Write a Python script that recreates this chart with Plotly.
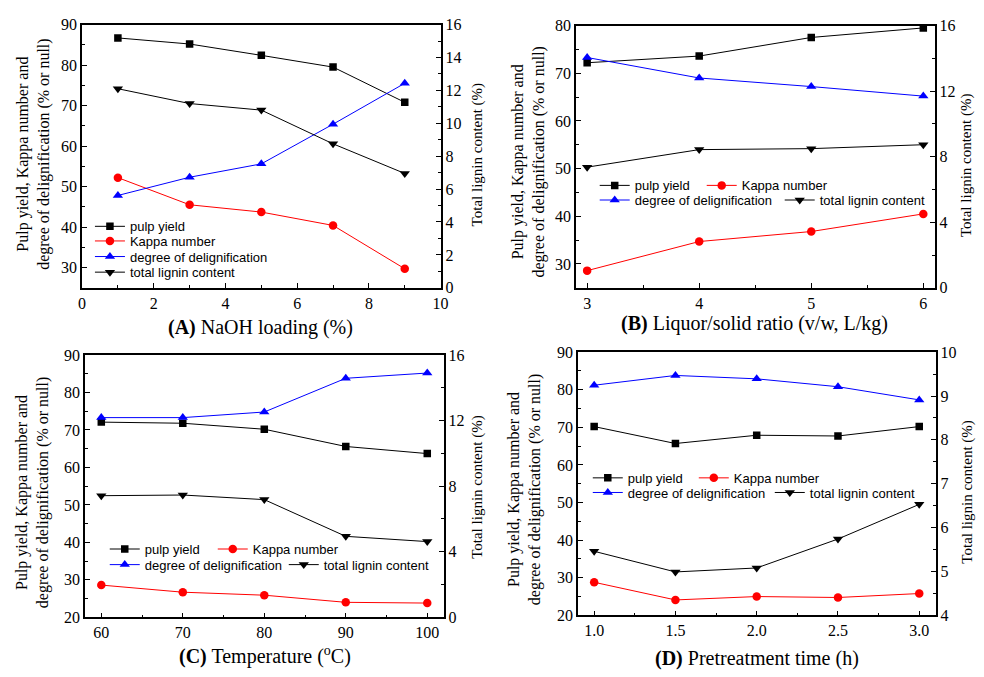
import plotly.graph_objects as go

W, H = 984, 677

# ---------------- data ----------------
naoh = [1, 3, 5, 7, 9]
a_pulp = [86.7, 85.2, 82.4, 79.5, 70.8]
a_kappa = [52.2, 45.5, 43.7, 40.4, 29.7]
a_deg = [47.8, 52.3, 55.6, 65.4, 75.5]
a_lignin = [12.1, 11.2, 10.8, 8.75, 6.95]

ratio = [3, 4, 5, 6]
b_pulp = [72.2, 73.6, 77.5, 79.5]
b_kappa = [28.6, 34.7, 36.8, 40.5]
b_deg = [73.3, 69.0, 67.2, 65.2]
b_lignin = [7.36, 8.43, 8.49, 8.73]

temp = [60, 70, 80, 90, 100]
c_pulp = [72.1, 71.8, 70.2, 65.6, 63.7]
c_kappa = [28.6, 26.7, 25.9, 24.0, 23.8]
c_deg = [73.3, 73.3, 74.8, 83.8, 85.2]
c_lignin = [7.42, 7.46, 7.18, 4.94, 4.62]

ptime = [1.0, 1.5, 2.0, 2.5, 3.0]
d_pulp = [70.2, 65.7, 67.9, 67.7, 70.2]
d_kappa = [28.8, 24.1, 25.0, 24.75, 25.8]
d_deg = [81.2, 83.8, 82.9, 80.8, 77.3]
d_lignin = [5.46, 4.99, 5.08, 5.74, 6.53]

names = ["pulp yield", "Kappa number", "degree of delignification", "total lignin content"]
xtitles = ["<b>(A)</b> NaOH loading (%)",
           "<b>(B)</b> Liquor/solid ratio (v/w, L/kg)",
           "<b>(C)</b> Temperature (<sup>o</sup>C)",
           "<b>(D)</b> Pretreatment time (h)"]
ytitle = "Pulp yield, Kappa number and<br>degree of delignification (% or null)"
y2title = "Total lignin content (%)"

# ---------------- helpers ----------------
def px(x):
    return x / W

def py(y):
    return 1 - y / H

SERIF = "Liberation Serif"
SANS = "Liberation Sans"

colors = ["black", "red", "blue", "black"]
symbols = ["square", "circle", "triangle-up", "triangle-down"]
msizes = [7.5, 8.5, 9, 9]

fig = go.Figure()

panels = [
    dict(x=naoh, ys=[a_pulp, a_kappa, a_deg, a_lignin],
         dom=(79, 442, 17, 287), xr=[0, 10], xd=2, xm=1, xf=None,
         yr=[25, 90], yd=10, ym=5, y2r=[0, 16], y2d=2, y2m=1),
    dict(x=ratio, ys=[b_pulp, b_kappa, b_deg, b_lignin],
         dom=(579, 942, 18, 287), xr=[2.9, 6.1], xd=1, xm=0.5, xf=None,
         yr=[25, 80], yd=10, ym=5, y2r=[0, 16], y2d=4, y2m=2),
    dict(x=temp, ys=[c_pulp, c_kappa, c_deg, c_lignin],
         dom=(82, 445, 356, 625), xr=[58, 102], xd=10, xm=5, xf=None,
         yr=[20, 90], yd=10, ym=5, y2r=[0, 16], y2d=4, y2m=2),
    dict(x=ptime, ys=[d_pulp, d_kappa, d_deg, d_lignin],
         dom=(581, 943, 353, 623), xr=[0.9, 3.1], xd=0.5, xm=0.25, xf=".1f",
         yr=[20, 90], yd=10, ym=5, y2r=[4, 10], y2d=1, y2m=0.5),
]

# legend assignment and per-entry widths (first entry of a row sets the column gap)
trace_legend = [
    ["legend", "legend2", "legend3", "legend4"],
    ["legend5", "legend5", "legend6", "legend6"],
    ["legend7", "legend7", "legend8", "legend8"],
    ["legend9", "legend9", "legend10", "legend10"],
]
trace_lw = [
    [None, None, None, None],
    [62, None, 140, None],
    [63, None, 134, None],
    [61, None, 137, None],
]

layout = {}
tickfont = dict(family=SERIF, size=16, color="black")

for i, p in enumerate(panels):
    xn = "" if i == 0 else str(i + 1)
    yl = 2 * i + 1
    yr_ = 2 * i + 2
    yln = "" if yl == 1 else str(yl)
    yrn = str(yr_)
    x0, x1, t0, t1 = p["dom"]
    for k in range(4):
        yaxis = "y" + yln if k < 3 else "y" + yrn
        tr = go.Scatter(
            x=p["x"], y=p["ys"][k], name=names[k], mode="lines+markers",
            line=dict(color=colors[k], width=1),
            marker=dict(symbol=symbols[k], size=msizes[k], color=colors[k]),
            xaxis="x" + xn, yaxis=yaxis, legend=trace_legend[i][k],
            showlegend=True)
        if trace_lw[i][k]:
            tr.legendwidth = trace_lw[i][k]
        fig.add_trace(tr)
    common = dict(showline=True, linecolor="black", linewidth=1.5,
                  ticks="inside", ticklen=5, tickwidth=1.2, tickcolor="black",
                  tickfont=tickfont, showgrid=False, zeroline=False)
    layout["xaxis" + xn] = dict(
        domain=[px(x0), px(x1)], range=p["xr"], dtick=p["xd"], tick0=0,
        anchor="y" + yln, mirror=True,
        minor=dict(ticks="inside", ticklen=3, dtick=p["xm"], tick0=0,
                   tickcolor="black", showgrid=False),
        tickformat=p["xf"] if p["xf"] else None, **common)
    layout["yaxis" + yln] = dict(
        domain=[py(t1), py(t0)], range=p["yr"], dtick=p["yd"], tick0=0,
        anchor="x" + xn,
        minor=dict(ticks="inside", ticklen=3, dtick=p["ym"], tick0=0,
                   tickcolor="black", showgrid=False),
        **common)
    layout["yaxis" + yrn] = dict(
        range=p["y2r"], dtick=p["y2d"], tick0=0,
        anchor="x" + xn, overlaying="y" + yln, side="right",
        minor=dict(ticks="inside", ticklen=3, dtick=p["y2m"], tick0=0,
                   tickcolor="black", showgrid=False),
        **common)

# ---------------- legends ----------------
legfont = dict(family=SANS, size=13, color="black")
def leg(xline, ycenter):
    return dict(x=px(xline - 7), y=py(ycenter - 2), xanchor="left", yanchor="middle",
                orientation="h", bgcolor="rgba(0,0,0,0)", borderwidth=0,
                font=legfont, itemwidth=30, tracegroupgap=0)

layout["legend"] = leg(94, 226)
layout["legend2"] = leg(94, 241)
layout["legend3"] = leg(94, 257)
layout["legend4"] = leg(94, 273)
layout["legend5"] = leg(605, 184)
layout["legend6"] = leg(605, 199)
layout["legend7"] = leg(109, 557)
layout["legend8"] = leg(109, 573)
layout["legend9"] = leg(598, 484)
layout["legend10"] = leg(598, 499)

# ---------------- titles ----------------
ann = []
xt_pos = [(260, 328), (760, 324), (264, 664), (762, 667)]
yt_pos = [(30, 150), (531, 158), (29, 497), (527, 494)]
y2_pos = [(479, 150), (975, 161), (480, 491), (975, 496)]
for i in range(4):
    ann.append(dict(text=xtitles[i], x=px(xt_pos[i][0]), y=py(xt_pos[i][1]),
                    xref="paper", yref="paper", showarrow=False,
                    xanchor="center", yanchor="middle",
                    font=dict(family=SERIF, size=20, color="black")))
    ann.append(dict(text=ytitle, x=px(yt_pos[i][0]), y=py(yt_pos[i][1]),
                    xref="paper", yref="paper", showarrow=False, textangle=-90,
                    xanchor="center", yanchor="middle",
                    font=dict(family=SERIF, size=16, color="black")))
    ann.append(dict(text=y2title, x=px(y2_pos[i][0]), y=py(y2_pos[i][1]),
                    xref="paper", yref="paper", showarrow=False, textangle=-90,
                    xanchor="center", yanchor="middle",
                    font=dict(family=SERIF, size=15, color="black")))

fig.update_layout(
    width=W, height=H, margin=dict(l=0, r=0, t=0, b=0),
    paper_bgcolor="white", plot_bgcolor="white",
    annotations=ann, **layout)

fig.write_html("out.html",
               config={"displayModeBar": False},
               post_script="document.body.style.margin='0px';"
                           "document.body.style.overflow='hidden';")
